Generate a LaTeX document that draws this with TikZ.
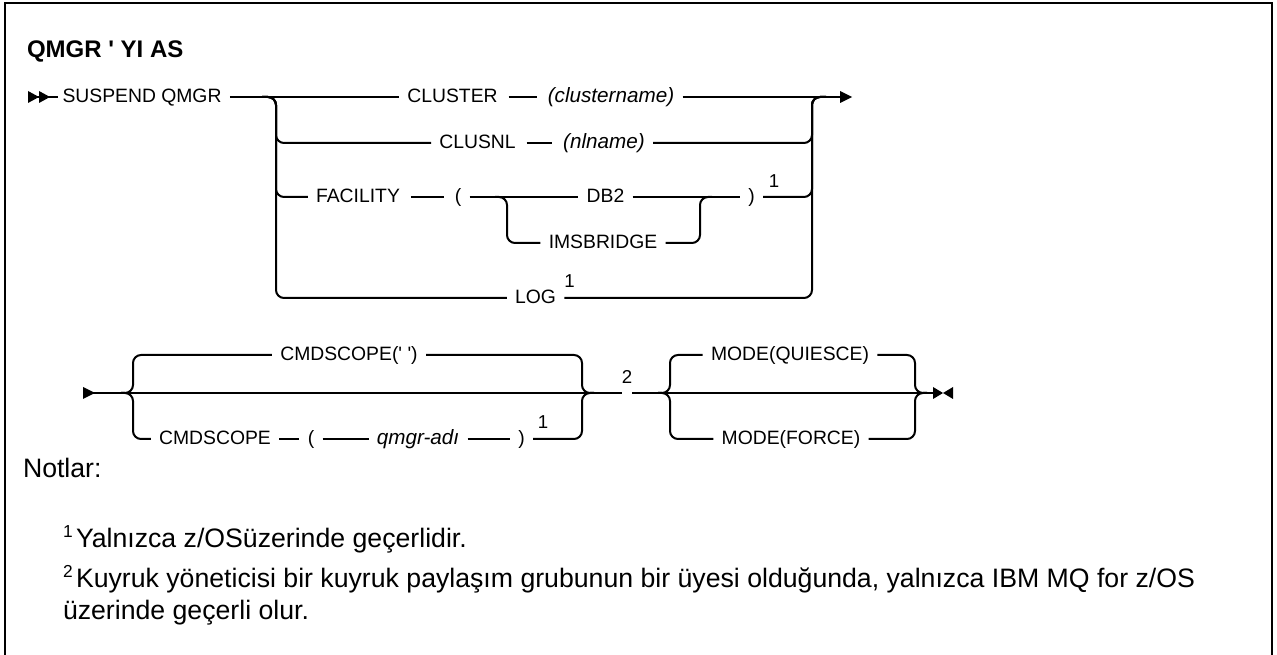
\documentclass[tikz,border=0pt]{standalone}
\usepackage{fontspec}
\setmainfont{Liberation Sans}
\begin{document}
\begin{tikzpicture}[x=0.75pt,y=-0.75pt,line width=1.5pt,
  lbl/.style={font=\fontsize{14.5}{16}\selectfont, inner xsep=5.5pt, inner ysep=0pt, text height=10.4pt, text depth=1.6pt},
  itl/.style={lbl, font=\fontsize{15.5}{17}\selectfont\itshape},
  sup/.style={font=\fontsize{14}{15}\selectfont, inner sep=0pt},
  dashc/.style={shorten <=2pt, shorten >=2pt},
  rc/.style={rounded corners=6pt},
  note/.style={font=\fontsize{20}{24}\selectfont, inner sep=0pt, anchor=base west},
  nsup/.style={font=\fontsize{13}{14}\selectfont, inner sep=0pt, anchor=base west}
]
\useasboundingbox (0,0) rectangle (1277,655);
% frame
\draw (5,665) -- (5,3) -- (1272,3) -- (1272,665);

% title
\node[anchor=base west, inner sep=0pt, font=\bfseries\fontsize{18}{21}\selectfont] (title) at (26,58) {QMGR \textquotesingle{} YI AS};

% ---------- first diagram ----------
\coordinate (s0) at (28,97);
\coordinate (s1) at (58,97);
\draw (s0) -- (s1);
\fill (28,91) -- (39,97) -- (28,103) -- cycle;
\fill (39,91) -- (50,97) -- (39,103) -- cycle;

\node[lbl] (susp) at (142,97) {SUSPEND QMGR};
\coordinate (Lpre) at (262,97);
\coordinate (Lb) at (276,97);
\coordinate (Rb) at (812,97);
\coordinate (Rpost) at (826,97);
\coordinate (endA) at (840,97);
\fill (840,91) -- (852,97) -- (840,103) -- cycle;

\node[lbl] (clu) at (452.5,97) {CLUSTER};
\node[itl] (clun) at (611,97) {(clustername)};
\node[lbl] (cnl) at (477.5,143) {CLUSNL};
\node[itl] (nln) at (604,143) {(nlname)};
\node[lbl] (fac) at (358,197) {FACILITY};
\node[lbl] (lp) at (458,197) {(};
\node[lbl] (db2) at (605.5,197) {DB2};
\node[lbl] (ims) at (603,243) {IMSBRIDGE};
\node[lbl] (rp) at (751.5,197) {)};
\node[sup] (sa) at (774,181) {1};
\node[lbl] (log) at (535.5,298) {LOG};
\node[sup] (sb) at (569.5,281) {1};

\draw (susp) -- (clu);
\draw[dashc] (clu) -- (clun);
\draw (clun) -- (endA);

\draw[rc] (Lpre) -- (Lb) -- (Lb |- cnl) -- (cnl);
\draw[dashc] (cnl) -- (nln);
\draw[rc] (nln) -- (Rb |- nln) -- (Rb) -- (Rpost);

\draw[rc] (Lpre) -- (Lb) -- (Lb |- fac) -- (fac);
\draw[dashc] (fac) -- (lp);
\draw (lp) -- (db2);
\draw (db2) -- (rp);
\draw[rc] (rp) -- (Rb |- rp) -- (Rb) -- (Rpost);

\coordinate (iLpre) at (495,197);
\coordinate (iL) at (507,197);
\coordinate (iR) at (700,197);
\coordinate (iRpost) at (712,197);
\draw[rc] (iLpre) -- (iL) -- (iL |- ims) -- (ims);
\draw[rc] (ims) -- (iR |- ims) -- (iR) -- (iRpost);

\draw[rc] (Lpre) -- (Lb) -- (Lb |- log) -- (log);
\draw[rc] (log) -- (Rb |- log) -- (Rb) -- (Rpost);

% ---------- second diagram ----------
\coordinate (t0) at (83,393);
\fill (83,387) -- (95,393) -- (83,399) -- cycle;
\coordinate (L2pre) at (121,393);
\coordinate (L2) at (133,393);
\coordinate (R2) at (582,393);
\coordinate (R2post) at (594,393);
\coordinate (gapL) at (622,393);
\coordinate (gapR) at (632,393);
\node[sup] (two) at (627,377) {2};
\coordinate (M2pre) at (658,393);
\coordinate (M2) at (670,393);
\coordinate (R3) at (915,393);
\coordinate (R3post) at (927,393);
\coordinate (endB) at (933,393);
\fill (933,387) -- (943,393) -- (933,399) -- cycle;
\fill (953,387) -- (943,393) -- (953,399) -- cycle;

\node[lbl] (cs1) at (349,355) {CMDSCOPE(\textquotesingle{} \textquotesingle)};
\node[lbl] (cs2) at (215,439) {CMDSCOPE};
\node[lbl] (lp2) at (311,439) {(};
\node[itl] (qm) at (418,439) {qmgr-adı};
\node[lbl] (rp2) at (521.5,439) {)};
\node[sup] (sc) at (543,422) {1};
\node[lbl] (mq) at (790,355) {MODE(QUIESCE)};
\node[lbl] (mf) at (791,439) {MODE(FORCE)};

\draw (t0) -- (gapL);
\draw (gapR) -- (endB);

\draw[rc] (L2pre) -- (L2) -- (L2 |- cs1) -- (cs1);
\draw[rc] (cs1) -- (R2 |- cs1) -- (R2) -- (R2post);
\draw[rc] (L2pre) -- (L2) -- (L2 |- cs2) -- (cs2);
\draw (cs2) -- (lp2);
\draw (lp2) -- (qm);
\draw (qm) -- (rp2);
\draw[rc] (rp2) -- (R2 |- rp2) -- (R2) -- (R2post);

\draw[rc] (M2pre) -- (M2) -- (M2 |- mq) -- (mq);
\draw[rc] (mq) -- (R3 |- mq) -- (R3) -- (R3post);
\draw[rc] (M2pre) -- (M2) -- (M2 |- mf) -- (mf);
\draw[rc] (mf) -- (R3 |- mf) -- (R3) -- (R3post);

% ---------- notes ----------
\node[note] (notlar) at (22,477) {Notlar:};
\node[nsup] (n1s) at (62,537) {1};
\node[note] (n1) at (75,547) {Yalnızca z/OSüzerinde geçerlidir.};
\node[nsup] (n2s) at (62,577) {2};
\node[note] (n2) at (75,587) {Kuyruk yöneticisi bir kuyruk paylaşım grubunun bir üyesi olduğunda, yalnızca IBM MQ for z/OS};
\node[note] (n3) at (62,619) {üzerinde geçerli olur.};
\end{tikzpicture}
\end{document}
